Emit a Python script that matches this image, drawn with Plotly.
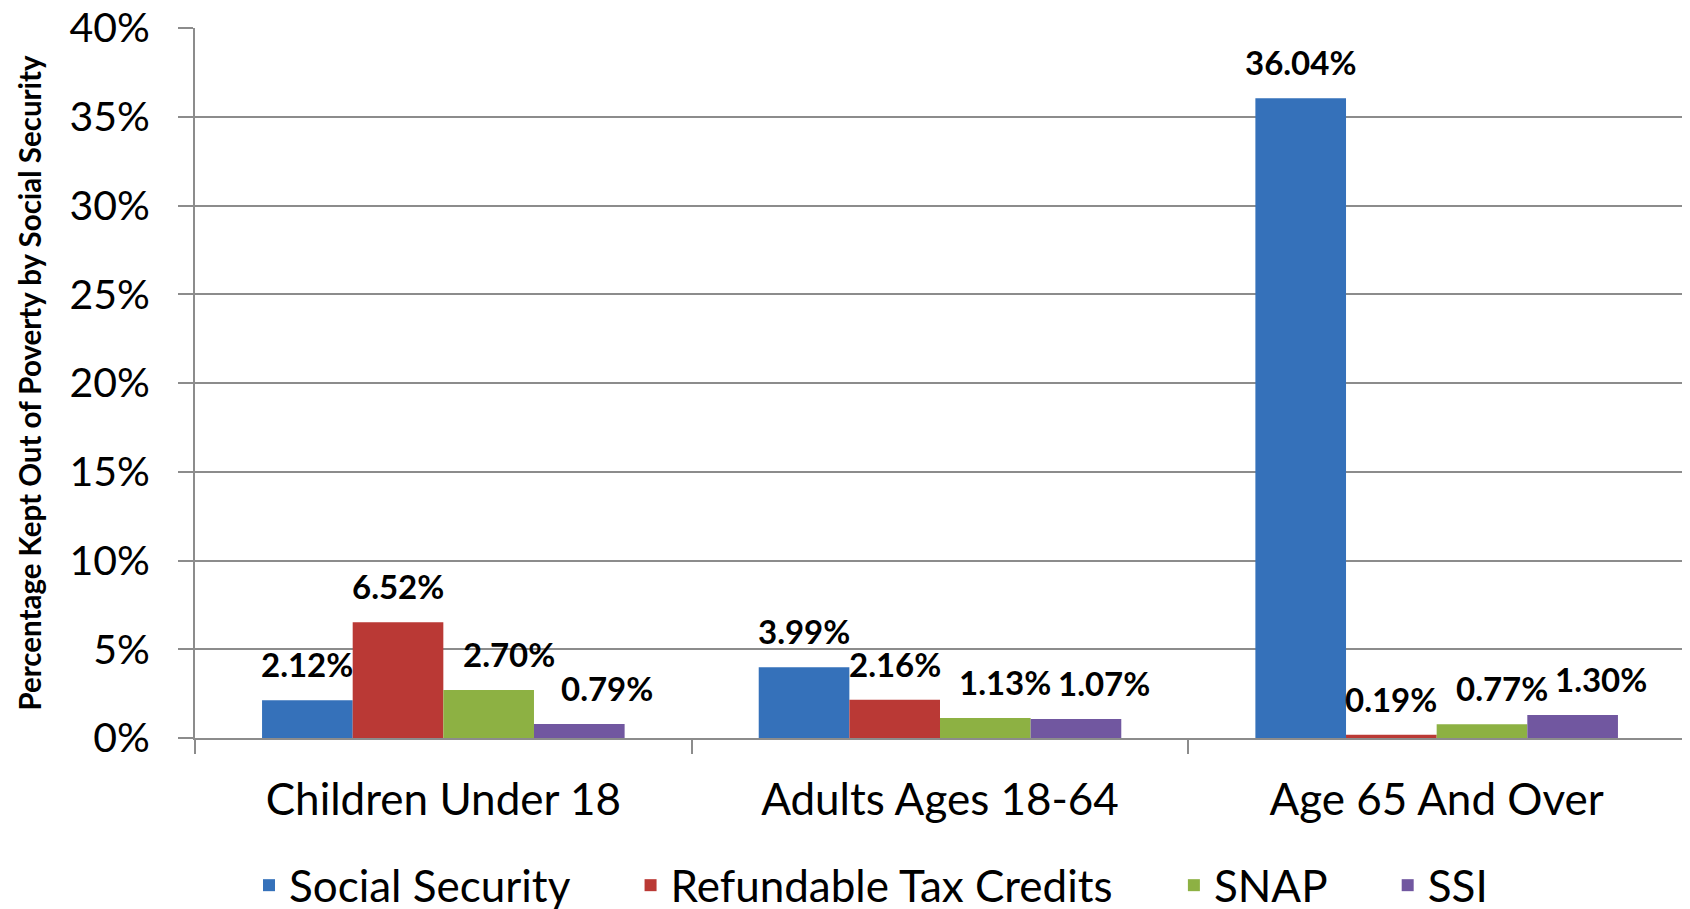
import plotly.graph_objects as go

categories = ["Children Under 18", "Adults Ages 18-64", "Age 65 And Over"]
series_names = ["Social Security", "Refundable Tax Credits", "SNAP", "SSI"]
social_security = [2.12, 3.99, 36.04]
refundable_tax_credits = [6.52, 2.16, 0.19]
snap = [2.70, 1.13, 0.77]
ssi = [0.79, 1.07, 1.30]
y_tick_values = [0, 5, 10, 15, 20, 25, 30, 35, 40]
y_tick_labels = ["0%", "5%", "10%", "15%", "20%", "25%", "30%", "35%", "40%"]

colors = ["#3571BA", "#BA3935", "#8DB143", "#7157A0"]
label_nudge = [0, 0, 20, 28]  # horizontal label nudge per series (px), style only
values = [social_security, refundable_tax_credits, snap, ssi]

FONT = "Lato"
# the page body has an 8px margin, so the figure is made 8px smaller each way
W, H = 1682, 901
ML, MR, MT, MB = 187, 5, 20, 171
BARGAP = 0.27

fig = go.Figure()
n = len(series_names)
for i, (name, vals, col) in enumerate(zip(series_names, values, colors)):
    legend_name = name + ("\u00a0" * 5 if i < n - 1 else "")
    fig.add_trace(go.Bar(
        x=categories, y=vals, name=legend_name,
        marker=dict(color=col, line=dict(width=0)),
        hovertemplate=name + ": %{y:.2f}%<extra></extra>",
    ))

# data labels placed through the axes, shifted to each bar's slot in the group
plot_w = W - ML - MR
cat_px = plot_w / len(categories)
bar_px = cat_px * (1 - BARGAP) / n
for i, vals in enumerate(values):
    for cat, v in zip(categories, vals):
        fig.add_annotation(
            x=cat, y=v, xref="x", yref="y",
            text=f"<b>{v:.2f}%</b>",
            showarrow=False, yanchor="bottom", xanchor="center",
            xshift=(i - (n - 1) / 2) * bar_px + label_nudge[i], yshift=14,
            font=dict(family=FONT, size=33, color="#000000"),
        )

fig.update_layout(
    width=W, height=H,
    margin=dict(l=ML, r=MR, t=MT, b=MB),
    paper_bgcolor="white", plot_bgcolor="white",
    barmode="group", bargap=BARGAP, bargroupgap=0,
    font=dict(family=FONT, color="#000000"),
    showlegend=True,
    legend=dict(
        orientation="h", x=(871 - 8 - ML) / (W - ML - MR), xanchor="center",
        yref="container", y=0.026, yanchor="middle",
        font=dict(family=FONT, size=44, color="#000000"),
        itemwidth=30, traceorder="normal",
    ),
)

fig.update_yaxes(
    range=[0, 40], tickvals=y_tick_values, ticktext=y_tick_labels,
    automargin=False, ticklabeloverflow="allow",
    showgrid=True, gridcolor="#8C8C8C", gridwidth=2,
    zeroline=False,
    showline=True, linecolor="#8C8C8C", linewidth=2,
    ticks="outside", ticklen=15, tickcolor="#8C8C8C", tickwidth=2,
    tickfont=dict(family=FONT, size=41, color="#000000"),
    ticklabelstandoff=20,
    title=dict(text="Percentage Kept Out of Poverty by Social Security",
               font=dict(family=FONT, size=29.5, color="#000000", weight="bold"),
               standoff=19),
)

fig.update_xaxes(
    automargin=False,
    showline=True, linecolor="#8C8C8C", linewidth=2,
    ticks="outside", tickson="boundaries", ticklen=14, tickcolor="#8C8C8C", tickwidth=2,
    tickfont=dict(family=FONT, size=44, color="#000000"),
    ticklabelstandoff=22,
)

fig.write_html("out.html")
